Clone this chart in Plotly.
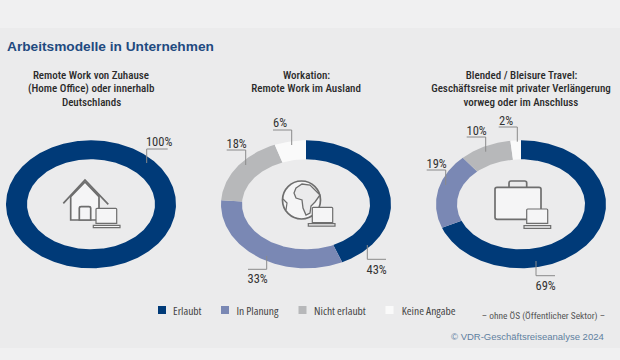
import math
import plotly.graph_objects as go

categories = ["Erlaubt", "In Planung", "Nicht erlaubt", "Keine Angabe"]
colors = ["#003a78", "#7a88b4", "#b7b8ba", "#fafafa"]
remote_values = [100, 0, 0, 0]
workation_values = [43, 33, 18, 6]
bleisure_values = [69, 19, 10, 2]
chart_titles = [
    ["Remote Work von Zuhause", "(Home Office) oder innerhalb", "Deutschlands"],
    ["Workation:", "Remote Work im Ausland"],
    ["Blended / Bleisure Travel:", "Geschäftsreise mit privater Verlängerung", "vorweg oder im Anschluss"],
]

NARROW = "Roboto, sans-serif"
fig = go.Figure()
CY, RX, RY, IRX, IRY = 204.3, 85, 64, 64, 45


def ring(cx, values):
    start = 0
    for val, col, name in zip(values, colors, categories):
        if val <= 0:
            continue
        end = start + val
        n = max(2, int(val * 3.6) + 1)
        ang = [math.radians((start + (end - start) * i / n) * 3.6) for i in range(n + 1)]
        xs = [cx + RX * math.sin(a) for a in ang] + [cx + IRX * math.sin(a) for a in reversed(ang)]
        ys = [CY - RY * math.cos(a) for a in ang] + [CY - IRY * math.cos(a) for a in reversed(ang)]
        fig.add_trace(go.Scatter(x=xs + xs[:1], y=ys + ys[:1], mode="lines", fill="toself",
                                 fillcolor=col, line=dict(width=0, color=col), name=name,
                                 hoverinfo="name", showlegend=False))
        start = end


for cx, vals in zip([91, 306, 521], [remote_values, workation_values, bleisure_values]):
    ring(cx, vals)

shapes = [dict(type="rect", x0=0, x1=620, y0=28, y1=348, fillcolor="#ebebec", line_width=0, layer="below")]
ann = []


def leader(path):
    shapes.append(dict(type="path", path=path, line=dict(color="#8a8a8a", width=1), layer="above"))


def ctext(x, y, text, size, color, weight=400, family=NARROW):
    ann.append(dict(x=x, y=y, text=text, showarrow=False, xanchor="center", yanchor="middle",
                    font=dict(family=family, size=size, color=color, weight=weight)))


for cx, lines in zip([91, 306, 521], chart_titles):
    for i, t in enumerate(lines):
        ctext(cx, 75 + i * 13.6, t, 11, "#2a2a2a", 500)

ann.append(dict(x=5, y=46, text="<b>Arbeitsmodelle in Unternehmen</b>", showarrow=False, xanchor="left",
                yanchor="middle", font=dict(family="Liberation Sans, sans-serif", size=13.7, color="#1f4a80")))

leaders = [
    ("M146.7 163 V149 H167.7", 158.5, 141, "100%"),
    ("M273 130 H291.7 V145", 280, 122.5, "6%"),
    ("M226.7 150 H245.7 V165", 236.5, 143, "18%"),
    ("M498.7 127 H517.3 V141.7", 505.7, 120, "2%"),
    ("M466.7 137 H485.7 V151.7", 476.5, 130, "10%"),
    ("M426.7 170 H445.7 V185", 436.5, 163, "19%"),
    ("M266.7 256 V269.3 H248", 257.5, 278.7, "33%"),
    ("M367.3 245 V259.3 H386", 376.5, 269.3, "43%"),
    ("M536 261 V275.7 H555", 545.5, 285.3, "69%"),
]
for p, x, y, t in leaders:
    leader(p)
    ctext(x, y, t, 12.5, "#333333")

# Legend
legend_x = [162, 225, 302.5, 389.5]
text_x = [187.5, 258, 340, 428]
fig.add_trace(go.Scatter(x=legend_x, y=[310] * 4, mode="markers", showlegend=False, hoverinfo="skip",
                         marker=dict(symbol="square", size=8, color=colors, line_width=0)))
for x, t in zip(text_x, categories):
    ctext(x, 310, t, 11.5, "#454545", family="Open Sans, sans-serif")

ctext(543.5, 315.5, "– ohne ÖS (Öffentlicher Sektor) –", 9.4, "#555555")
ann.append(dict(x=606, y=336, text="© VDR-Geschäftsreiseanalyse 2024", showarrow=False, xanchor="right",
                yanchor="middle", font=dict(family="Liberation Sans, sans-serif", size=9.5, color="#5f7f9f")))

# Icons
ICF = "#f5f5f6"


def icon(path, fill=ICF, width=1.7):
    shapes.append(dict(type="path", path=path, fillcolor=fill, line=dict(color="#6e6e6e", width=width), layer="above"))


def laptop(x0, x1, y0, y1, bx0, bx1, by0, by1):
    icon(f"M{x0} {y0+1} Q{x0} {y0} {x0+1} {y0} H{x1-1} Q{x1} {y0} {x1} {y0+1} V{y1} H{x0} Z", width=1.2)
    icon(f"M{bx0} {by0} H{bx1} V{by1} H{bx0} Z", width=1.2)


# house
icon("M70.7 196.7 L85 182 L99 196.7 V220 H70.7 Z")
icon("M63.3 203.3 L85 180 L108.3 204.3", fill="rgba(0,0,0,0)")
icon("M79.3 220 V208 Q79.3 206.7 81 206.7 H89 Q90.7 206.7 90.7 208 V220 Z")
laptop(96, 116.7, 208.3, 223.3, 93.3, 120, 225.3, 227.7)

# globe
shapes.append(dict(type="circle", x0=282.5, x1=320.5, y0=181, y1=219, fillcolor=ICF,
                   line=dict(color="#6e6e6e", width=1.7), layer="above"))
icon("M296 188 L302 184 L310 185 L315 190 L320 195 L315 202 L311 206 L310 213 L306 215 L303 208 L302 200 "
     "L296 198 L294 193 Z", fill="#ebebec", width=1.3)
icon("M283 199 L287 203 L286 210", fill="rgba(0,0,0,0)", width=1.2)
laptop(312.3, 332.7, 207.3, 222.7, 308.3, 335, 223.6, 226.2)

# briefcase
icon("M509 187 V183 Q509 181 511 181 H524.7 Q526.7 181 526.7 183 V187", fill="rgba(0,0,0,0)")
icon("M497 187.3 H539 Q541 187.3 541 189.3 V217.3 Q541 219.3 539 219.3 H497 Q495 219.3 495 217.3 V189.3 Q495 187.3 497 187.3 Z")
laptop(526.7, 547.7, 209, 223.3, 524, 550.7, 225.7, 228.3)

fig.update_layout(
    width=620, height=360, margin=dict(l=0, r=0, t=0, b=0),
    paper_bgcolor="#f0f0f1", plot_bgcolor="rgba(0,0,0,0)",
    xaxis=dict(range=[0, 620], visible=False, fixedrange=True),
    yaxis=dict(range=[360, 0], visible=False, fixedrange=True),
    shapes=shapes, annotations=ann, showlegend=False,
)
fig.write_html("out.html", config={"displayModeBar": False},
               post_script="document.body.style.margin='0';var s=document.createElement('style');"
                           "s.textContent='.annotation-text{font-stretch:75% !important}';"
                           "document.head.appendChild(s);")
